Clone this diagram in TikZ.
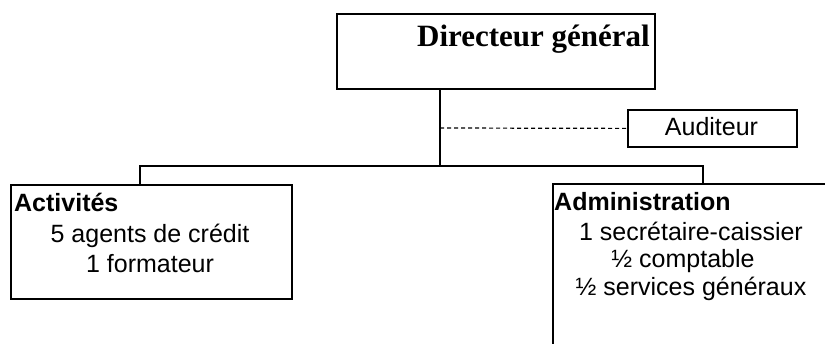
\documentclass[tikz,border=0pt]{standalone}
\usepackage{fontspec}
\setmainfont{Liberation Sans}
\newfontfamily\titlefont{Liberation Serif}
\begin{document}
\begin{tikzpicture}[x=1pt,y=-1pt,
  box/.style={draw=black,line width=1.8pt,inner sep=0pt,anchor=north west},
  link/.style={draw=black,line width=1.6pt},
  lbl/.style={inner sep=0pt,anchor=base,font=\fontsize{25}{30}\selectfont},
]
\useasboundingbox (0,0) rectangle (825,344);
\clip (0,0) rectangle (825,344);

% boxes
\node[box,line width=2pt,minimum width=318pt,minimum height=75pt] (dg) at (336,13) {};
\node[box,minimum width=169pt,minimum height=37pt] (aud) at (627,109) {};
\node[box,minimum width=281pt,minimum height=114pt] (act) at (10,184) {};
\node[box,minimum width=277pt,minimum height=200pt] (adm) at (552,183) {};

% texts
\node[inner sep=0pt,anchor=base east,font=\titlefont\bfseries\fontsize{31}{36}\selectfont] (dgt) at (650,47) {Directeur général};
\node[lbl] (audt) at (711.5,136) {Auditeur};
\node[lbl,anchor=base west] (actt) at (14,212) {\textbf{Activités}};
\node[lbl] (act1) at (150,243) {5 agents de crédit};
\node[lbl] (act2) at (150,273) {1 formateur};
\node[lbl,anchor=base west] (admt) at (554,211) {\textbf{Administration}};
\node[lbl] (adm1) at (691,241) {1 secrétaire-caissier};
\node[lbl] (adm2) at (683,268) {½ comptable};
\node[lbl] (adm3) at (691,296) {½ services généraux};

% connectors
\coordinate (hub) at (440,166);
\coordinate (tap) at (440,128);
\coordinate (lb) at (140,166);
\coordinate (rb) at (703,166);
\draw[link] (dg.south -| hub) -- (hub);
\draw[link,line width=1.2pt,dash pattern=on 4pt off 3pt] (tap) -- (aud.west);
\draw[link] (act.north -| lb) -- (lb) -- (rb) -- (adm.north -| rb);
\end{tikzpicture}
\end{document}
